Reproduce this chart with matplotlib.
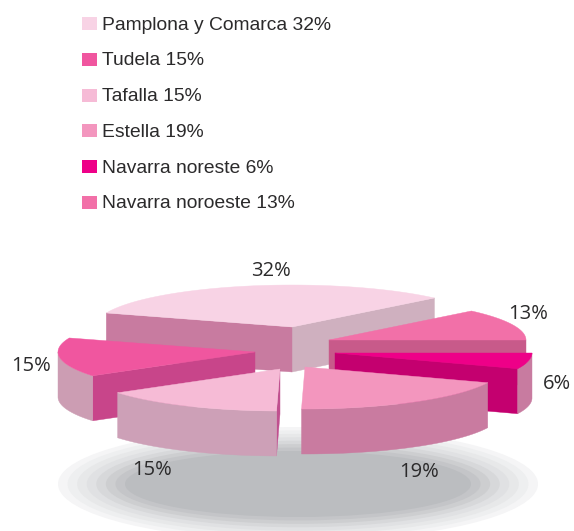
import numpy as np
import matplotlib
matplotlib.use("Agg")
import matplotlib.pyplot as plt
from matplotlib.patches import Polygon, Ellipse, Rectangle

names = ["Pamplona y Comarca", "Tudela", "Tafalla", "Estella", "Navarra noreste", "Navarra noroeste"]
# printed percentages, and the slice sizes as they are actually drawn in the picture
labels = [32, 15, 15, 19, 6, 13]
shares = [32.44, 15.0, 15.14, 19.18, 6.1, 12.14]

top_cols = ["#F8D3E5", "#F0569F", "#F6BBD6", "#F396BE", "#EE0088", "#F270A8"]
# side faces: first cut, second cut, rim (None = hidden)
cut0_cols = ["#CFB0BF", None, None, None, "#C4006F", "#C85A8A"]
cut1_cols = ["#C87BA0", "#C8458A", "#C0508F", None, None, None]
rim_cols = [None, "#CC9DB3", "#CDA0B7", "#C97BA0", "#C87BA0", None]

# apex of each exploded slice, in pixels
apex_x = [292, 255, 280, 305, 335, 329]
apex_y = [327, 352, 369, 367, 353, 340]
label_x = [271, 31, 152, 419, 557, 528]
label_y = [271, 366, 470, 472, 384, 314]
draw_order = [0, 5, 1, 4, 2, 3]

shadow_cols = ["#F5F5F6", "#EEEFF0", "#E7E8E9", "#E0E1E3", "#D7D8DA", "#CDCED0", "#C4C5C8", "#BBBDC0"]

RX, RY, DEPTH = 197, 42, 45
START = 43.7
TXT = "#2B2A2B"

fig = plt.figure(figsize=(5.74, 5.31), dpi=100)
ax = fig.add_axes([0, 0, 1, 1])
ax.set_xlim(0, 574)
ax.set_ylim(531, 0)
ax.axis("off")

# shadow under the pie
n = len(shadow_cols)
for rx, ry, c in zip(np.linspace(240, 173, n), np.linspace(57, 33, n), shadow_cols):
    ax.add_patch(Ellipse((298, 484), 2 * rx, 2 * ry, fc=c, ec="none", zorder=1))


def rim_pt(cx, cy, deg):
    a = np.radians(deg)
    return cx + RX * np.cos(a), cy - RY * np.sin(a)


def face(pts, c, z):
    ax.add_patch(Polygon(pts, closed=True, fc=c, ec=c, lw=0.3, zorder=z))


edges = START + np.concatenate([[0], np.cumsum(shares)]) * 3.6

for z, i in enumerate(draw_order):
    cx, cy = apex_x[i], apex_y[i]
    a0, a1 = edges[i], edges[i + 1]
    z = 2 + z
    for ang, c in ((a0, cut0_cols[i]), (a1, cut1_cols[i])):
        if c:
            x, y = rim_pt(cx, cy, ang)
            face([(cx, cy), (x, y), (x, y + DEPTH), (cx, cy + DEPTH)], c, z)
    if rim_cols[i]:
        lo, hi = max(a0, 180), min(a1, 360)
        arc = np.linspace(lo, hi, 60)
        x, y = rim_pt(cx, cy, arc)
        pts = np.r_[np.c_[x, y], np.c_[x, y + DEPTH][::-1]]
        face(pts, rim_cols[i], z)
    arc = np.linspace(a0, a1, 120)
    x, y = rim_pt(cx, cy, arc)
    face(np.r_[[(cx, cy)], np.c_[x, y]], top_cols[i], z)

for i, s in enumerate(labels):
    ax.text(label_x[i], label_y[i], f"{s}%", ha="center", va="center", fontsize=14.5,
            family=["Open Sans", "DejaVu Sans"], color=TXT, zorder=20)

# legend
for i, (name, s) in enumerate(zip(names, labels)):
    yc = 23.5 + 35.8 * i
    ax.add_patch(Rectangle((82, yc - 6.5), 15, 13, fc=top_cols[i], ec="none", zorder=20))
    ax.text(102, yc + 1.5, f"{name} {s}%", ha="left", va="center", fontsize=13.85,
            family=["Liberation Sans", "DejaVu Sans"], color=TXT, zorder=20)

fig.savefig("out.png", dpi=100)
